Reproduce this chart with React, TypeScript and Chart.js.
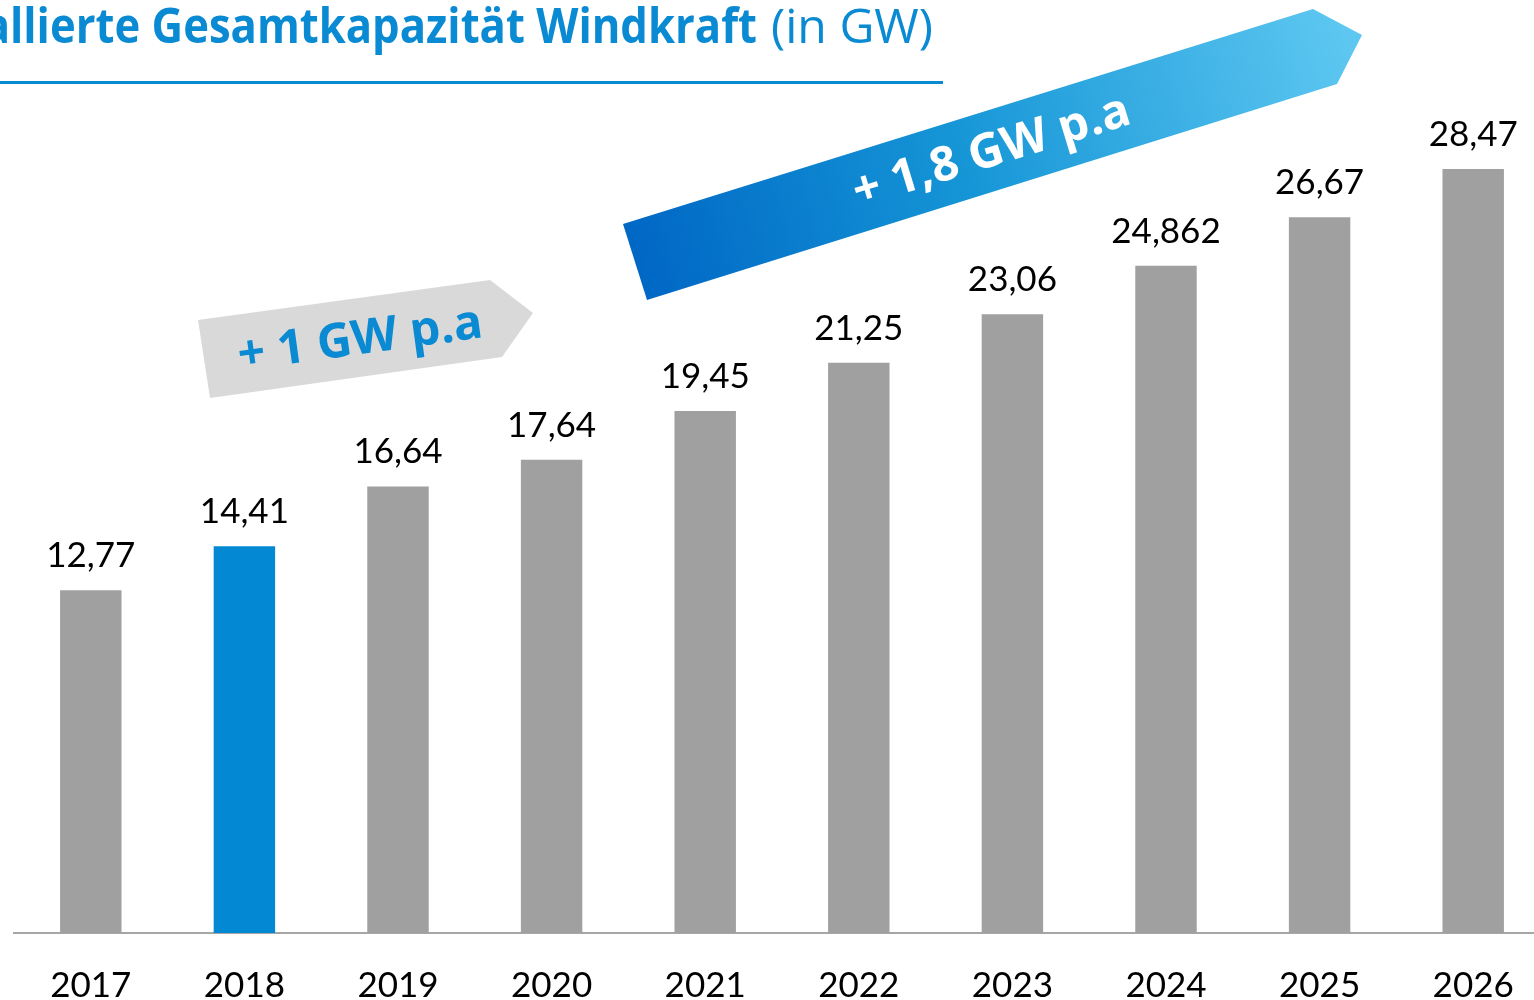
import React, { useEffect, useRef } from "react";
import { Chart, registerables } from "chart.js";

Chart.register(...registerables);

// ---- data ----
const years = ["2017", "2018", "2019", "2020", "2021", "2022", "2023", "2024", "2025", "2026"];
const capacityGW = [12.77, 14.41, 16.64, 17.64, 19.45, 21.25, 23.06, 24.862, 26.67, 28.47];
const valueLabels = ["12,77", "14,41", "16,64", "17,64", "19,45", "21,25", "23,06", "24,862", "26,67", "28,47"];
const highlightYear = "2018";
const titleHidden = "Insta";
const titleBold = "llierte Gesamtkapazität Windkraft";
const titleUnit = "(in GW)";
const trendEarly = "+ 1 GW p.a";
const trendLate = "+ 1,8 GW p.a";

const GRAY = "#a0a0a0";
const BLUE = "#0389d4";
const TITLE_BLUE = "#0a8ad2";

const overlayPlugin = {
  id: "overlay",
  afterDatasetsDraw(chart: any) {
    const ctx = chart.ctx as CanvasRenderingContext2D;
    const meta = chart.getDatasetMeta(0);
    ctx.save();
    ctx.fillStyle = "#000000";
    ctx.font = '35px "Lato"';
    ctx.textAlign = "center";
    ctx.textBaseline = "alphabetic";
    meta.data.forEach((bar: any, i: number) => {
      ctx.fillText(valueLabels[i], bar.x, bar.y - 23);
    });
    ctx.restore();
  },
  afterDraw(chart: any) {
    const ctx = chart.ctx as CanvasRenderingContext2D;
    ctx.save();
    // title
    ctx.fillStyle = TITLE_BLUE;
    ctx.textBaseline = "alphabetic";
    ctx.font = '42px "Open Sans"';
    const uw = ctx.measureText(titleUnit).width;
    const fs = 42 * (162 / uw);
    ctx.font = `${fs}px "Open Sans"`;
    ctx.textAlign = "right";
    ctx.fillText(titleUnit, 933, 43);
    ctx.font = `bold ${fs}px "Open Sans"`;
    const bw = ctx.measureText(titleBold).width;
    const sx = 747 / bw;
    ctx.save();
    ctx.translate(757, 43);
    ctx.scale(sx, 1);
    ctx.textAlign = "right";
    ctx.fillText(titleHidden + titleBold, 0, 0);
    ctx.restore();
    ctx.fillRect(0, 81, 943, 3);

    // gray arrow
    ctx.beginPath();
    ctx.moveTo(198, 320);
    ctx.lineTo(490, 280);
    ctx.lineTo(533, 313);
    ctx.lineTo(502, 357);
    ctx.lineTo(210, 398);
    ctx.closePath();
    ctx.fillStyle = "#d9d9d9";
    ctx.fill();
    ctx.save();
    ctx.translate(360, 338);
    ctx.rotate((-7.8 * Math.PI) / 180);
    ctx.fillStyle = TITLE_BLUE;
    ctx.font = 'bold 48px "Open Sans"';
    ctx.textAlign = "center";
    ctx.textBaseline = "alphabetic";
    ctx.fillText(trendEarly, 0, 16);
    ctx.restore();

    // blue arrow
    const g = ctx.createLinearGradient(635, 262, 1350, 47);
    g.addColorStop(0, "#0067c5");
    g.addColorStop(0.45, "#1595d6");
    g.addColorStop(1, "#5dc7f1");
    ctx.beginPath();
    ctx.moveTo(623, 224);
    ctx.lineTo(1313, 9);
    ctx.lineTo(1362, 35);
    ctx.lineTo(1337, 84);
    ctx.lineTo(647, 300);
    ctx.closePath();
    ctx.fillStyle = g;
    ctx.fill();
    ctx.save();
    ctx.translate(991, 150);
    ctx.rotate((-17 * Math.PI) / 180);
    ctx.fillStyle = "#ffffff";
    ctx.font = 'bold 48px "Open Sans"';
    ctx.textAlign = "center";
    ctx.textBaseline = "alphabetic";
    ctx.fillText(trendLate, 0, 16);
    ctx.restore();

    ctx.restore();
  },
};

export default function App() {
  const canvasRef = useRef<HTMLCanvasElement | null>(null);

  useEffect(() => {
    document.body.style.overflow = "hidden";
    const canvas = canvasRef.current;
    if (!canvas) return;
    const chart = new Chart(canvas, {
      type: "bar",
      data: {
        labels: years,
        datasets: [
          {
            data: capacityGW,
            backgroundColor: years.map((y) => (y === highlightYear ? BLUE : GRAY)),
            categoryPercentage: 1,
            barPercentage: 0.4,
            borderWidth: 0,
          },
        ],
      },
      options: {
        responsive: false,
        animation: false,
        devicePixelRatio: 1,
        layout: { padding: { left: 14, right: 10, top: 128, bottom: 0 } },
        plugins: {
          legend: { display: false },
          tooltip: { enabled: false },
          title: { display: false },
        },
        scales: {
          y: { display: false, min: 0, max: 30 },
          x: {
            afterFit: (scale: any) => {
              scale.height = 67;
            },
            grid: { display: false, drawTicks: false },
            border: { display: true, color: "#a6a6a6", width: 2 },
            ticks: {
              color: "#000000",
              padding: 32,
              font: { family: "Lato", size: 35 },
              maxRotation: 0,
              autoSkip: false,
            },
          },
        },
      },
      plugins: [overlayPlugin],
    });
    return () => chart.destroy();
  }, []);

  return (
    <div style={{ position: "fixed", left: 0, top: 0, width: 1534, height: 1000, overflow: "hidden", background: "#ffffff" }}>
      <canvas ref={canvasRef} width={1560} height={1000} style={{ display: "block" }} />
    </div>
  );
}
